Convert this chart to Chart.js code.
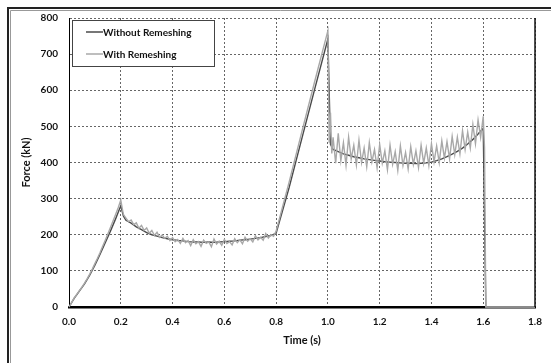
<!DOCTYPE html>
<html>
<head>
<meta charset="utf-8">
<script src="https://cdn.jsdelivr.net/npm/chart.js@4/dist/chart.umd.min.js"></script>
<style>
  html, body { margin: 0; padding: 0; background: #fff; }
  #wrap { width: 551px; height: 363px; }
</style>
</head>
<body>
<div id="wrap"><canvas id="force"></canvas></div>
<script>
//------------------------------------------------------------------------------
// data
//------------------------------------------------------------------------------
var without_t = "Without Remeshing";
var with_t = "With Remeshing";
var dark = "#4a4a4a";
var light = "#a8a8a8";

var timeTicks = [0.0, 0.2, 0.4, 0.6, 0.8, 1.0, 1.2, 1.4, 1.6, 1.8];
var forceTicks = [0, 100, 200, 300, 400, 500, 600, 700, 800];

var timeWithout = [0.00, 0.02, 0.04, 0.06, 0.08, 0.10, 0.12, 0.14, 0.16, 0.18,
  0.20, 0.21, 0.22, 0.24, 0.26, 0.28, 0.30, 0.32, 0.34, 0.36, 0.38, 0.40,
  0.42, 0.44, 0.46, 0.48, 0.50, 0.52, 0.54, 0.56, 0.58, 0.60, 0.62, 0.64,
  0.66, 0.68, 0.70, 0.72, 0.74, 0.76, 0.78, 0.80, 0.85, 0.90, 0.95, 1.00,
  1.01, 1.02, 1.04, 1.06, 1.08, 1.10, 1.12, 1.14, 1.16, 1.18, 1.20, 1.22,
  1.24, 1.26, 1.28, 1.30, 1.32, 1.34, 1.36, 1.38, 1.40, 1.42, 1.44, 1.46,
  1.48, 1.50, 1.52, 1.54, 1.56, 1.58, 1.60, 1.61, 1.80];
var forceWithout = [0, 24, 44, 64, 88, 116, 146, 178, 210, 244,
  280, 252, 240, 232, 222, 214, 206, 200, 196, 192, 189, 186,
  184, 183, 181, 180, 180, 179, 180, 179, 180, 181, 182, 183,
  185, 186, 188, 190, 192, 195, 198, 204, 330, 468, 606, 742,
  450, 436, 430, 424, 420, 416, 413, 410, 408, 406, 404, 402,
  401, 400, 399, 398, 398, 397, 398, 399, 401, 405, 410, 416,
  423, 431, 440, 451, 464, 479, 495, 0, 0];

var timeWith = [0.00, 0.01, 0.02, 0.03, 0.04, 0.05, 0.06, 0.07, 0.08, 0.09,
  0.10, 0.11, 0.12, 0.13, 0.14, 0.15, 0.16, 0.17, 0.18, 0.19,
  0.20, 0.21, 0.22, 0.23, 0.24, 0.25, 0.26, 0.27, 0.28, 0.29,
  0.30, 0.31, 0.32, 0.33, 0.34, 0.35, 0.36, 0.37, 0.38, 0.39,
  0.40, 0.41, 0.42, 0.43, 0.44, 0.45, 0.46, 0.47, 0.48, 0.49,
  0.50, 0.51, 0.52, 0.53, 0.54, 0.55, 0.56, 0.57, 0.58, 0.59,
  0.60, 0.61, 0.62, 0.63, 0.64, 0.65, 0.66, 0.67, 0.68, 0.69,
  0.70, 0.71, 0.72, 0.73, 0.74, 0.75, 0.76, 0.77, 0.78, 0.79,
  0.80, 0.85, 0.90, 0.95, 1.00, 1.005, 1.01, 1.015,
  1.02, 1.03, 1.04, 1.05, 1.06, 1.07, 1.08, 1.09, 1.10,
  1.11, 1.12, 1.13, 1.14, 1.15, 1.16, 1.17, 1.18, 1.19, 1.20,
  1.21, 1.22, 1.23, 1.24, 1.25, 1.26, 1.27, 1.28, 1.29, 1.30,
  1.31, 1.32, 1.33, 1.34, 1.35, 1.36, 1.37, 1.38, 1.39, 1.40,
  1.41, 1.42, 1.43, 1.44, 1.45, 1.46, 1.47, 1.48, 1.49, 1.50,
  1.51, 1.52, 1.53, 1.54, 1.55, 1.56, 1.57, 1.58, 1.59, 1.60,
  1.605, 1.61, 1.80];
var forceWith = [0, 12, 25, 35, 45, 55, 66, 78, 91, 105,
  120, 135, 151, 168, 185, 202, 220, 238, 256, 275,
  296, 256, 246, 236, 241, 228, 233, 218, 226, 212,
  219, 204, 212, 198, 207, 193, 199, 190, 196, 184,
  192, 181, 187, 176, 190, 178, 184, 170, 186, 175,
  181, 168, 185, 176, 180, 167, 188, 174, 182, 171,
  187, 176, 181, 172, 189, 178, 186, 175, 193, 182,
  189, 180, 197, 186, 193, 185, 203, 191, 200, 196,
  210, 345, 487, 627, 765, 455, 538, 425,
  470, 398, 481, 405, 455, 392, 470, 410, 448,
  393, 462, 400, 440, 388, 455, 402, 436, 385, 450,
  398, 432, 380, 448, 395, 430, 378, 446, 392, 428,
  382, 444, 395, 432, 386, 448, 398, 440, 392, 452,
  402, 446, 400, 460, 412, 458, 410, 472, 422, 470,
  424, 488, 436, 484, 440, 505, 452, 518, 470, 528,
  440, 0, 0];

//------------------------------------------------------------------------------
//------------------------------------------------------------------------------
function pts(t, f) {
  return t.map(function(v, i) { return {x: v, y: f[i]}; });
}

var frame = {
  id: 'frame',
  beforeDraw: function(chart) {
    var c = chart.ctx;
    c.save();
    c.fillStyle = '#fff';
    c.fillRect(0, 0, chart.width, chart.height);
    c.strokeStyle = '#222';
    c.lineWidth = 2;
    c.beginPath();
    c.moveTo(8, 363); c.lineTo(8, 8); c.lineTo(551, 8);
    c.stroke();
    c.strokeStyle = '#999';
    c.lineWidth = 1;
    c.beginPath();
    c.moveTo(10.5, 363); c.lineTo(10.5, 10.5); c.lineTo(551, 10.5);
    c.stroke();
    c.restore();
  },
  afterDatasetsDraw: function(chart) {
    var c = chart.ctx, a = chart.chartArea;
    c.save();
    // right edge of the plot
    c.strokeStyle = '#111';
    c.lineWidth = 1.5;
    c.beginPath();
    c.moveTo(a.right, a.top); c.lineTo(a.right, a.bottom);
    c.stroke();
    // legend box
    c.fillStyle = '#fff';
    c.fillRect(72, 20, 142, 46);
    c.strokeStyle = '#444';
    c.lineWidth = 1;
    c.strokeRect(72.5, 20.5, 142, 46);
    c.font = 'bold 10px Lato';
    c.textBaseline = 'middle';
    c.fillStyle = '#111';
    var ys = [32, 54];
    chart.data.datasets.forEach(function(ds, i) {
      c.strokeStyle = ds.borderColor;
      c.lineWidth = 1.5;
      c.beginPath();
      c.moveTo(86, ys[i]); c.lineTo(103, ys[i]);
      c.stroke();
      c.fillText(ds.label, 103, ys[i] + 0.5);
    });
    c.restore();
  }
};

var ctx = document.getElementById("force");
var chart = new Chart(ctx, {
  type: 'scatter',
  data: {
    datasets: [{
      label: without_t,
      data: pts(timeWithout, forceWithout),
      borderColor: dark,
      backgroundColor: dark,
      borderWidth: 1.4,
      showLine: true,
      pointRadius: 0,
      clip: 4,
      order: 1
    }, {
      label: with_t,
      data: pts(timeWith, forceWith),
      borderColor: light,
      backgroundColor: light,
      borderWidth: 1.4,
      showLine: true,
      pointRadius: 0,
      clip: 4,
      order: 0
    }]
  },
  options: {
    responsive: true,
    maintainAspectRatio: false,
    animation: false,
    layout: { padding: { left: 0, right: 10, top: 18, bottom: 0 } },
    plugins: {
      legend: { display: false },
      tooltip: { enabled: false }
    },
    scales: {
      x: {
        type: 'linear',
        min: timeTicks[0],
        max: timeTicks[timeTicks.length - 1],
        afterFit: function(s) { s.height = 56; },
        afterBuildTicks: function(s) {
          s.ticks = timeTicks.map(function(v) { return {value: v}; });
        },
        ticks: {
          padding: 9,
          color: '#111',
          font: { family: 'Lato', size: 10, weight: 'bold' },
          callback: function(v) { return Number(v).toFixed(1); }
        },
        grid: { color: '#666', lineWidth: 1, drawTicks: false },
        border: { color: '#000', width: 2.5, dash: [2, 2] },
        title: {
          display: true,
          text: 'Time (s)',
          color: '#111',
          font: { family: 'Lato', size: 11, weight: 'bold' },
          padding: { top: 0, bottom: 16 }
        }
      },
      y: {
        min: forceTicks[0],
        max: forceTicks[forceTicks.length - 1],
        afterFit: function(s) { s.width = 69; },
        afterBuildTicks: function(s) {
          s.ticks = forceTicks.map(function(v) { return {value: v}; });
        },
        ticks: {
          padding: 11,
          color: '#111',
          font: { family: 'Lato', size: 10, weight: 'bold' }
        },
        grid: { color: '#666', lineWidth: 1, drawTicks: false },
        border: { color: '#000', width: 1, dash: [2, 2] },
        title: {
          display: true,
          text: 'Force (kN)',
          color: '#111',
          font: { family: 'Lato', size: 11, weight: 'bold' },
          padding: { top: 20, bottom: 0 }
        }
      }
    }
  },
  plugins: [frame]
});
//------------------------------------------------------------------------------
//------------------------------------------------------------------------------
</script>
</body>
</html>
